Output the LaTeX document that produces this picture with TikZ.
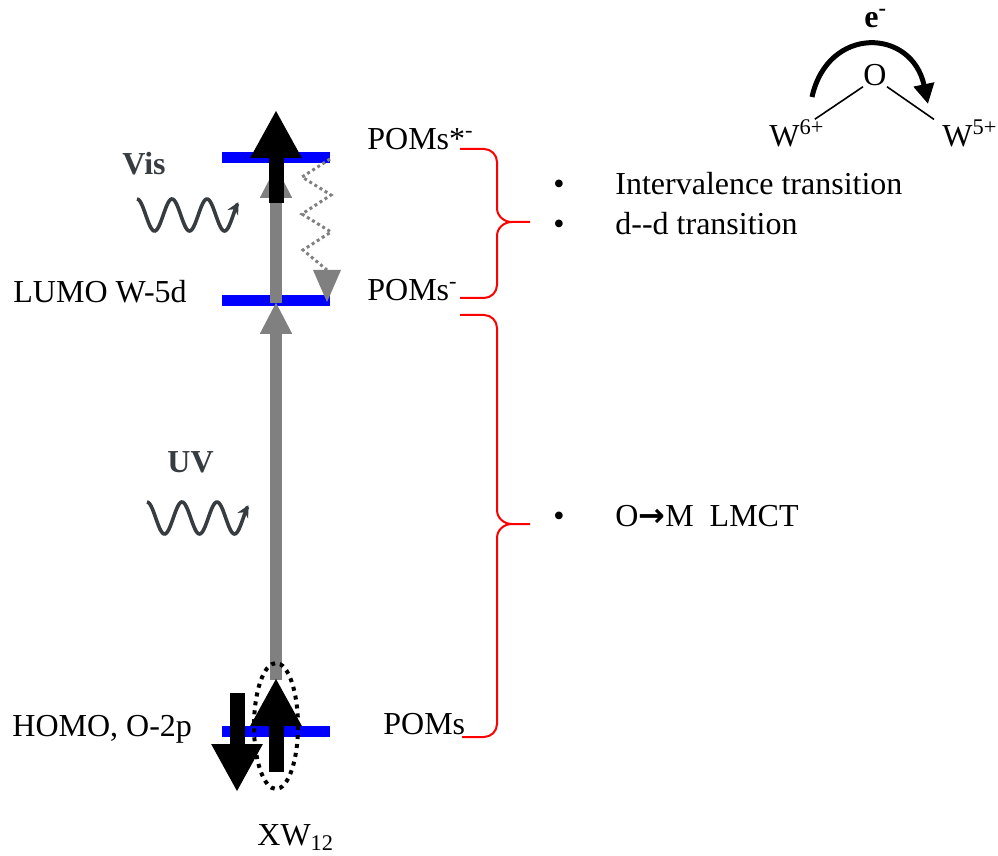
\documentclass[tikz,border=0pt]{standalone}
\usepackage{fontspec}
\setmainfont{Liberation Serif}
\newfontfamily\arrowfont{DejaVu Sans}
\usetikzlibrary{arrows.meta}

\definecolor{levelblue}{RGB}{0,0,255}
\definecolor{shaftgray}{RGB}{128,128,128}
\definecolor{photongray}{RGB}{55,60,65}

\tikzset{
  level/.style={levelblue, line width=5.5pt},
  txt/.style={inner sep=0pt, anchor=base west, font=\fontsize{16}{19}\selectfont},
  lighttxt/.style={txt, text=photongray, font=\fontsize{16}{19}\selectfont\bfseries},
  photon/.style={photongray, line width=1.8pt, smooth, -{Stealth[length=6pt,width=6pt]}},
  grayup/.style={shaftgray, line width=6pt, -{Triangle[length=16pt,width=15pt]}},
  spin/.style={black, line width=7.5pt, -{Triangle[length=24pt,width=24pt]}},
  brace/.style={red, line width=1pt}
}

\begin{document}
\begin{tikzpicture}[x=0.5pt, y=-0.5pt]

    \useasboundingbox (0,0) rectangle (998,856);

    % 1. Các mức năng lượng
    \draw[level] (222,158) -- (330,158);
    \draw[level] (222,301) -- (330,301);
    \draw[level] (222,731) -- (330,731);

    % 2. Mũi tên xám: HOMO -> LUMO -> POMs*
    \draw[grayup] (276,680) -- (276,302);
    \draw[grayup] (276,303) -- (276,166);

    % 3. Mũi tên spin đen
    \draw[spin] (276,203) -- (276,110);
    \draw[spin] (276,772) -- (276,678);
    \draw[spin] (237,693) -- (237,792);

    % vòng chấm quanh electron kích thích
    \draw[black, line width=2pt, dash pattern=on 2pt off 2.5pt]
        (276,726) ellipse [x radius=22, y radius=63];

    % 4. Hồi phục (đường zigzag chấm)
    \draw[shaftgray, line width=1.5pt, dash pattern=on 1.5pt off 1.5pt]
        (330,159) -- (302,177) -- (331,195) -- (302,214) -- (331,232) -- (303,250) -- (327,270);
    \fill[shaftgray] (313,270) -- (341,270) -- (327,302) -- cycle;

    % 5. Sóng ánh sáng
    \draw[photon] plot[domain=0:2.9, samples=80] ({137+35*\x}, {215-16*cos(360*\x)});
    \draw[photon] plot[domain=0:2.9, samples=80] ({147+35*\x}, {518-16*cos(360*\x)});
    \node[lighttxt] (vis) at (122,175) {Vis};
    \node[lighttxt] (uv) at (167,473) {UV};

    % 6. Nhãn các mức
    \node[txt] (lumo) at (13,303) {LUMO W-5d};
    \node[txt] (homo) at (12,736) {HOMO, O-2p};
    \node[txt] (xw) at (257,845) {XW\textsubscript{12}};
    \node[txt] (pomsex) at (367,150) {POMs*\textsuperscript{-}};
    \node[txt] (pomsan) at (367,301) {POMs\textsuperscript{-}};
    \node[txt] (poms) at (383,734) {POMs};

    % 7. Ngoặc nhọn đỏ
    \draw[brace] (460,149) -- (484,149) to[out=0,in=90] (497,162) -- (497,208)
        to[out=-90,in=180] (512,222) -- (530,222);
    \draw[brace] (512,222) to[out=180,in=90] (497,236) -- (497,285)
        to[out=-90,in=0] (484,298) -- (460,298);
    \draw[brace] (460,315) -- (484,315) to[out=0,in=90] (497,328) -- (497,510)
        to[out=-90,in=180] (512,524) -- (530,524);
    \draw[brace] (512,524) to[out=180,in=90] (497,538) -- (497,724)
        to[out=-90,in=0] (484,737) -- (462,737);

    % 8. Các chuyển dời
    \node[txt] (dot1) at (553,195) {•};
    \node[txt] (ivct) at (615,195) {Intervalence transition};
    \node[txt] (dot2) at (553,235) {•};
    \node[txt] (dd) at (615,235) {d-{}-d transition};
    \node[txt] (dot3) at (553,526) {•};
    \node[txt] (lmct) at (615,526) {O{\arrowfont\bfseries →}M\ \ LMCT};

    % 9. Sơ đồ W-O-W
    \node[txt, font=\fontsize{16}{19}\selectfont\bfseries] (el) at (864,28) {e\textsuperscript{-}};
    \node[txt, anchor=base] (ox) at (875,86) {O};
    \node[txt] (w6) at (769,147) {W\textsuperscript{6+}};
    \node[txt] (w5) at (942,147) {W\textsuperscript{5+}};
    \draw[line width=0.8pt] (ox.south west) -- ([xshift=-5pt]w6.north east);
    \draw[line width=0.8pt] (ox.south east) -- ([xshift=-4pt]w5.north west);
    \draw[line width=2.5pt, -{Triangle[length=10pt,width=10pt]}]
        (812,97) .. controls (828,25) and (912,28) .. (928,104);

\end{tikzpicture}
\end{document}
